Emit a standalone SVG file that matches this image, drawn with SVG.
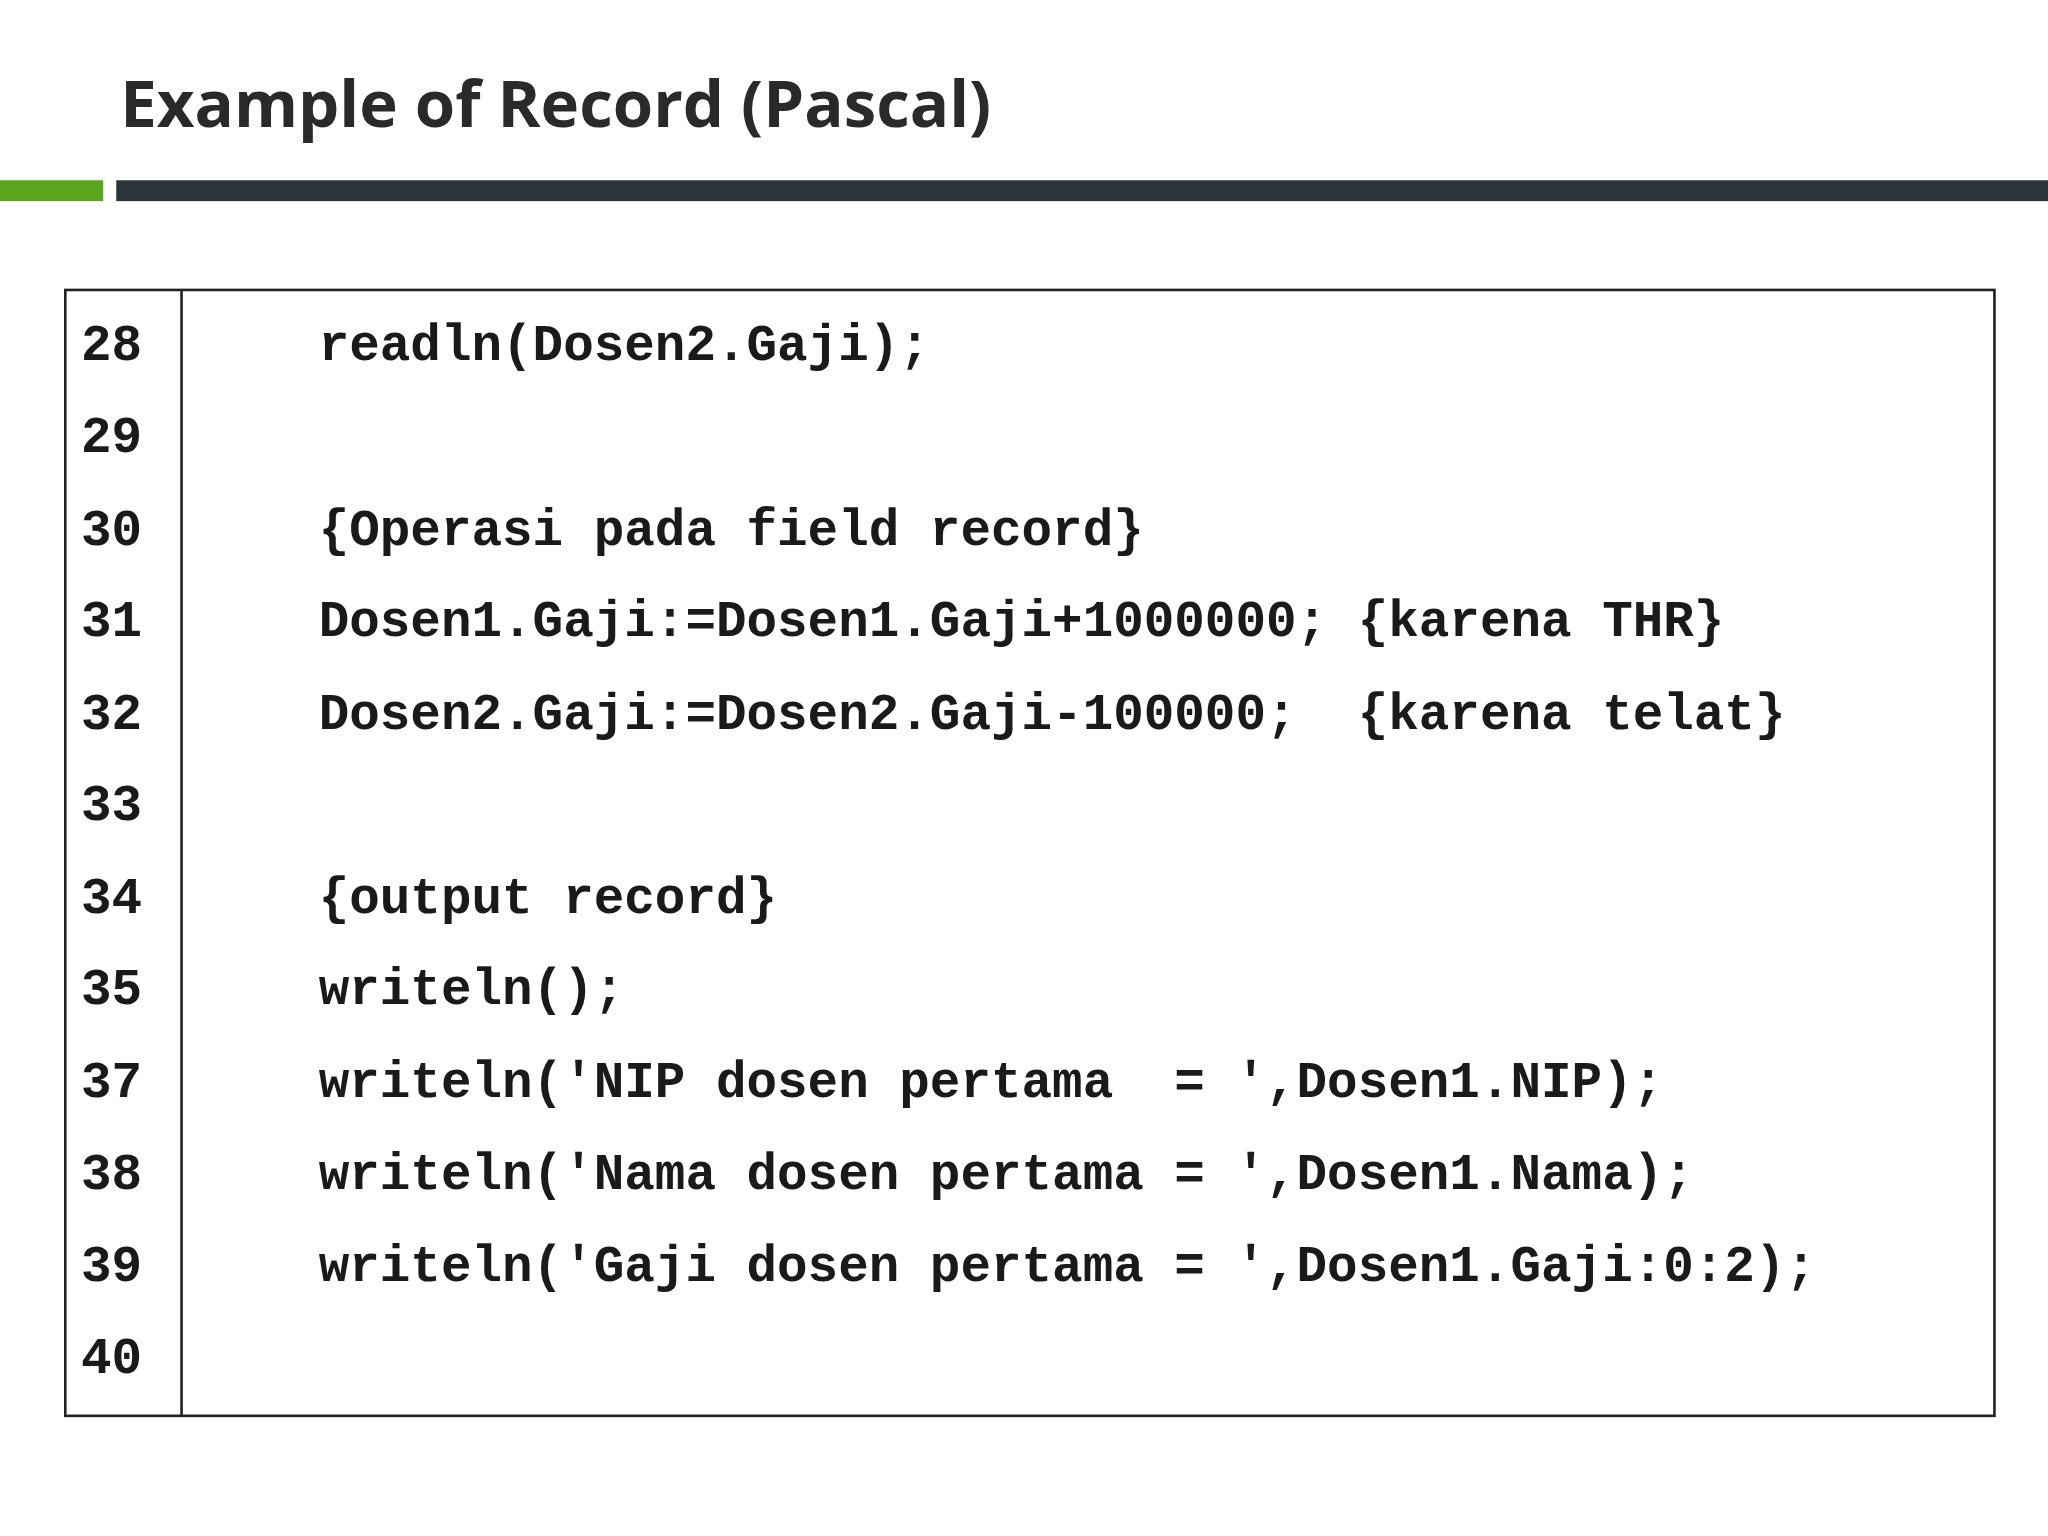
<svg xmlns="http://www.w3.org/2000/svg" width="2048" height="1536" viewBox="0 0 2048 1536">
<style>
.c{font-family:"Liberation Mono","Courier New",monospace;font-weight:bold;font-size:39px;fill:#1a1a1a;white-space:pre}
</style>
<rect width="2048" height="1536" fill="#fff"/>
<g transform="scale(1.30612)">
<g id="title"><text x="92" y="97" font-family="'Open Sans',sans-serif" font-weight="bold" font-size="50" fill="#2a2a2a">Example of Record (Pascal)</text></g>
<g id="bars"><rect x="0" y="138" width="79" height="16" fill="#5aa51e"/><rect x="89" y="138" width="1479" height="16" fill="#2d3439"/></g>
<g id="table">
<rect x="50" y="222" width="1477" height="862" fill="none" stroke="#222" stroke-width="2"/>
<line x1="139" y1="222" x2="139" y2="1084" stroke="#222" stroke-width="2"/>
<g class="c">
<text x="62" y="276" class="c">28</text><text x="62" y="346" class="c">29</text><text x="62" y="417" class="c">30</text><text x="62" y="487" class="c">31</text><text x="62" y="558" class="c">32</text><text x="62" y="628" class="c">33</text><text x="62" y="699" class="c">34</text><text x="62" y="769" class="c">35</text><text x="62" y="840" class="c">37</text><text x="62" y="910" class="c">38</text><text x="62" y="981" class="c">39</text><text x="62" y="1051" class="c">40</text>
<text x="244" y="276" class="c">readln(Dosen2.Gaji);</text>
<text x="244" y="417" class="c">{Operasi pada field record}</text>
<text x="244" y="487" class="c">Dosen1.Gaji:=Dosen1.Gaji+1000000; {karena THR}</text>
<text x="244" y="558" class="c">Dosen2.Gaji:=Dosen2.Gaji-100000;  {karena telat}</text>
<text x="244" y="699" class="c">{output record}</text>
<text x="244" y="769" class="c">writeln();</text>
<text x="244" y="840" class="c">writeln('NIP dosen pertama  = ',Dosen1.NIP);</text>
<text x="244" y="910" class="c">writeln('Nama dosen pertama = ',Dosen1.Nama);</text>
<text x="244" y="981" class="c">writeln('Gaji dosen pertama = ',Dosen1.Gaji:0:2);</text>
</g>
</g>
</g>
</svg>
